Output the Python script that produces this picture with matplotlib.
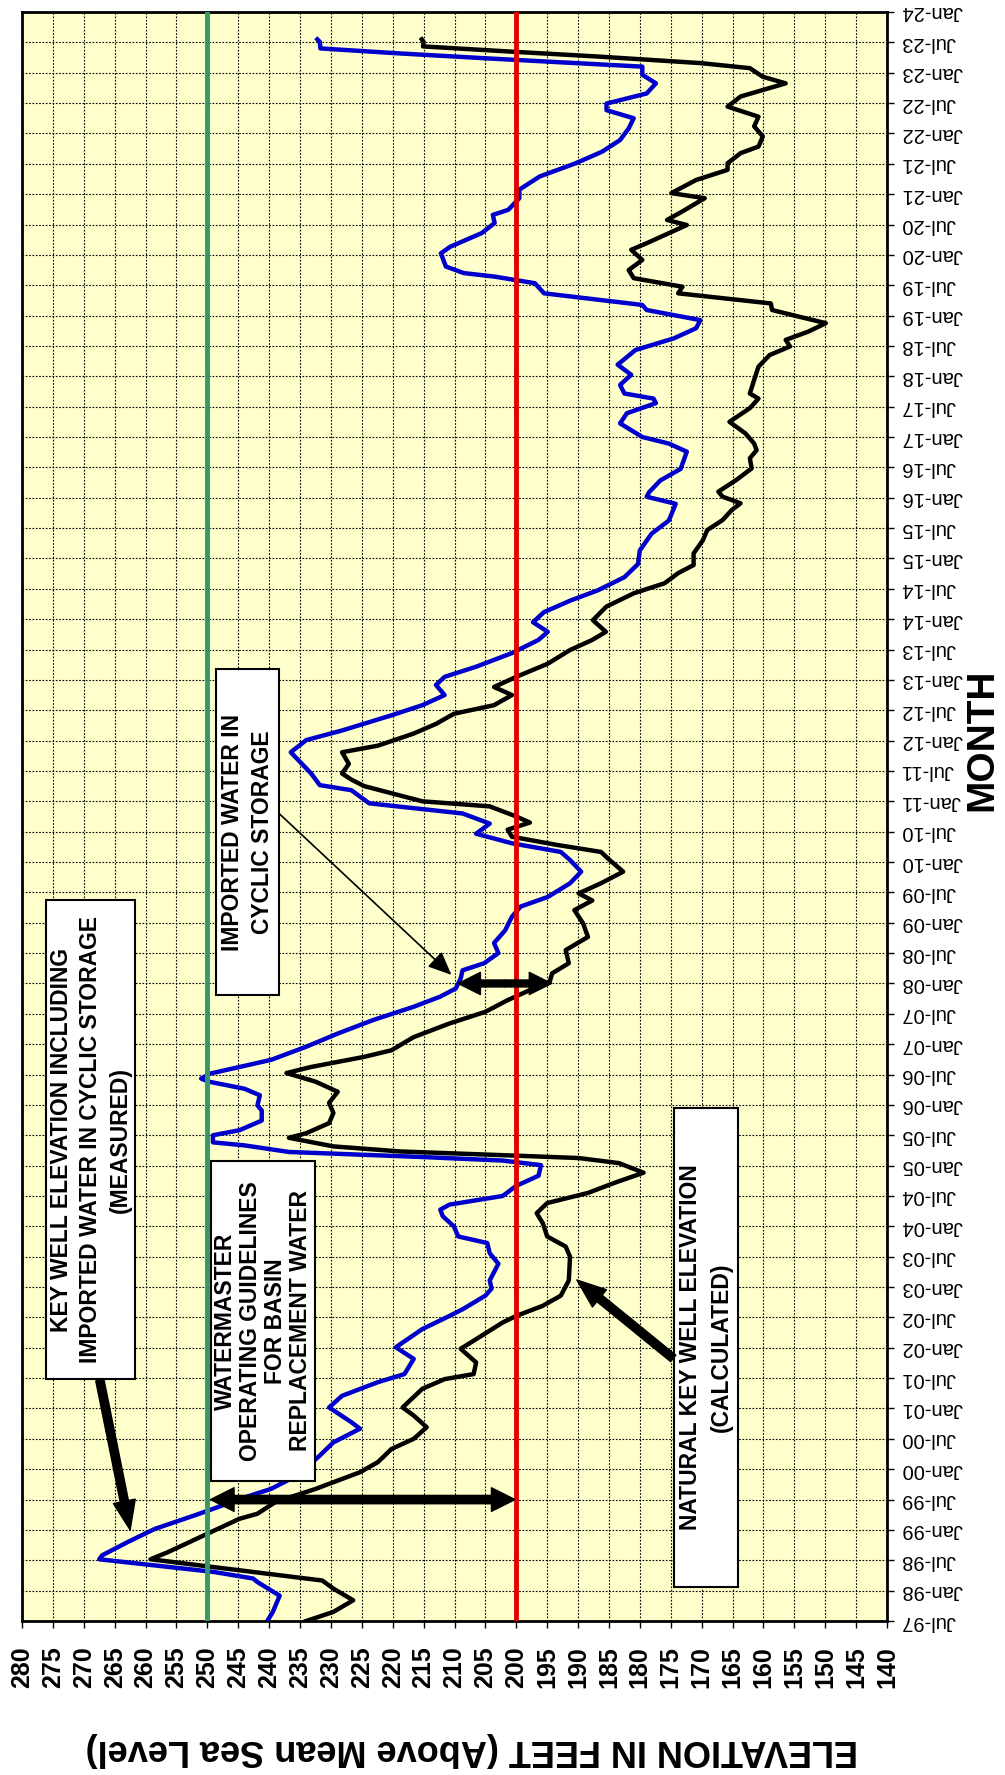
import matplotlib
matplotlib.use('Agg')
import matplotlib.pyplot as plt
from matplotlib.patches import Rectangle, FancyArrowPatch

plt.rcParams['font.family'] = ['Liberation Sans', 'DejaVu Sans']

# months counted from Jul-1997, elevations in feet
blue_month = [0, 1.8, 5, 7.7, 8.4, 9.7, 12.2, 13, 15.6, 18.2, 20.9, 22.2, 24.1, 26.1, 28.8,
              32.7, 35.3, 38, 39.3, 42.2, 44.5, 47.2, 48.8, 51.8, 54.1, 57.7, 60.3, 61.6, 64.3,
              65.7, 67.3, 70.6, 72.7, 74.7, 76, 78, 80, 81.3, 82.3, 84, 86, 88, 90.1, 91, 91.7,
              92.7, 94, 94.6, 96, 97, 98.9, 100.9, 101.9, 103.9, 105.2, 106.6, 107.2, 108.2,
              110.9, 113.5, 116.1, 118.8, 121.4, 123.4, 125, 127, 128.6, 130, 132, 134, 136.5,
              139.2, 141.2, 143.1, 145.8, 148.1, 150.4, 152, 153.7, 155.6, 157.6, 159.6, 161.6,
              164.2, 165.2, 167.5, 169.4, 171.7, 174.1, 176, 179, 181, 183, 185, 186.6, 188.6,
              191.3, 193.9, 195.5, 197.4, 199.4, 201.7, 203.7, 206.3, 208.9, 211.6, 214.9, 217.5,
              220.8, 222.2, 223.1, 225.4, 227.7, 230.1, 231.1, 232.7, 234, 236.7, 238.7, 240.7,
              241.6, 242.6, 244.3, 246.3, 248.3, 251.2, 253.5, 255.5, 257.1, 259.1, 260.1, 262.4,
              264.4, 265.7, 266.4, 267.7, 270.3, 271.6, 274.3, 276.3, 277.9, 278.9, 281.2, 282.9,
              285.5, 288.1, 290.4, 292.7, 295, 297, 298.6, 299.9, 301.9, 303.9, 305.6, 307.2,
              308.8, 309.8, 310.8, 312.1, 312.6]
blue_elev = [240.3, 239.4, 238.3, 241.9, 242.6, 249, 267.5, 267, 262.9, 258.5, 252, 249, 244.8,
             239.7, 235.4, 231.8, 229.6, 225.3, 226.7, 230.3, 228.2, 222.4, 218.1, 216.6, 219.5,
             215.2, 210.8, 208.7, 205, 204, 204.3, 202.9, 204.3, 204.7, 209.4, 210.1, 211.9,
             212.3, 210.8, 202.2, 200, 196.4, 196, 202.2, 215.2, 236.8, 244, 249.1, 249.1, 244.8,
             241.2, 241.2, 241.9, 241.5, 244, 249.8, 251, 249.5, 239.7, 234, 228.9, 223.1, 216.6,
             212.3, 209.8, 209, 208.7, 205.2, 202.9, 203.6, 201.8, 200.7, 199.3, 194.9, 191.3,
             189.5, 191.3, 192.8, 200.7, 206.5, 204.3, 208.7, 223.8, 226.7, 231.8, 233.2, 234.7,
             236.5, 234, 228.2, 220.2, 215.2, 211.6, 213, 211.6, 206.5, 200.7, 196.4, 194.9,
             197.3, 195.5, 191.2, 186.8, 182.5, 180.3, 180, 178.1, 175.3, 174.2, 178.9, 178.5,
             176.7, 173.4, 172.7, 172.4, 175.3, 179.6, 183.2, 182.1, 177.4, 177.8, 182.5, 183.2,
             181.4, 183.6, 180.7, 174.5, 170.9, 170.2, 178.9, 179.6, 195.5, 197, 203.5, 208.5,
             211.4, 212.2, 210.7, 205.6, 203.5, 203.8, 201.3, 199.5, 199.5, 196.2, 190.4, 186.1,
             183.2, 181.8, 181, 185.4, 185.4, 178.9, 177.4, 179.6, 179.6, 204.2, 218.7, 231.7,
             231.8, 232.2]

black_month = [0, 1.8, 4.1, 6.4, 8, 9.7, 12.2, 13.6, 16.9, 20.2, 21.2, 23.5, 26.1, 29.4, 31.4,
               34, 36, 38.3, 40.6, 42.2, 45.9, 47.8, 48.8, 51.1, 53.8, 55.7, 59, 60.3, 62.3, 64.3,
               65.7, 67.3, 72, 74, 76, 78.6, 80.6, 82.6, 84.6, 86.6, 88.6, 90.5, 91.5, 92, 92.8,
               93.8, 95.5, 96.4, 98.4, 100.4, 102.4, 104.6, 106.6, 108.3, 109.5, 111.5, 112.8,
               115.4, 118.1, 120.4, 122.7, 124.7, 126.3, 128, 130, 132.6, 135.2, 137.9, 140.5,
               142.4, 143.8, 145.8, 148.1, 150.4, 152, 153.4, 155, 156.4, 157.8, 159, 161, 162,
               163.6, 165, 166.3, 167.5, 169.4, 171.7, 173, 175.4, 177.3, 179.3, 181, 183, 184.6,
               186.6, 189.2, 191.9, 193.9, 195.5, 197.8, 200.5, 203.1, 205.1, 207.1, 208.7, 211,
               213.6, 215.6, 217.6, 219.6, 220.9, 222.2, 223.2, 225.5, 227.8, 229.8, 231.4, 232.7,
               234.7, 237, 239.7, 241.6, 242.6, 245.3, 247.9, 250.2, 251.9, 253.2, 254.8, 256.5,
               257.8, 259.1, 260.4, 262.4, 263.7, 265.4, 267, 269, 271, 272.3, 274.3, 275.9,
               276.9, 278.6, 281.2, 282.2, 284.8, 286.8, 288.1, 290.1, 291.4, 293.4, 295.4, 297.3,
               299.3, 301.3, 303.9, 305.2, 306.9, 307.9, 309.2, 310.2, 311.2, 312.1, 312.6]
black_elev = [234, 229.6, 226.4, 229.6, 231.4, 242.6, 259.2, 256.4, 250.6, 244.8, 241.9, 239,
              232.5, 225.3, 222.4, 220.2, 216.6, 214.5, 216.6, 218.4, 215.2, 211.6, 206.9, 206.5,
              209, 206.5, 202.2, 200, 195.7, 192.8, 192.2, 191.5, 191.3, 192, 195, 195.7, 196.7,
              195, 188.4, 184.1, 179.4, 183.4, 189.9, 200.7, 218.8, 229.6, 236.8, 234, 230.3,
              229.6, 230.3, 228.9, 232.5, 237.2, 233.2, 224.6, 220.2, 216.6, 210.8, 205, 201.4,
              197.8, 194.6, 194.2, 191.5, 192, 188.4, 189.2, 190.6, 187.7, 189.9, 186.3, 182.7,
              184.9, 186.3, 193.5, 200.7, 201.4, 197.8, 200, 204.3, 215.2, 220.2, 224.6, 226.7,
              228.2, 227.1, 228.2, 222.4, 216.6, 213, 210.1, 203.6, 200.7, 203.6, 200, 194.9,
              191.3, 187.7, 185.5, 187.6, 185.4, 181, 176, 173.8, 171.3, 171.3, 169.8, 169.1,
              166.6, 165.1, 163.7, 166.6, 167.3, 164.4, 161.9, 162.2, 161.1, 161.5, 162.9, 165.5,
              162.2, 160.8, 162.2, 161.5, 160.8, 159, 155.7, 156.4, 152.8, 149.9, 154.3, 158.6,
              158.8, 173.8, 173.1, 181, 181.8, 179.6, 181.4, 178.9, 175.3, 172.4, 175.6, 173.1,
              169.5, 174.9, 170.9, 165.8, 165.8, 163.7, 160.8, 160.1, 161.5, 160.8, 165.8, 163.7,
              156.4, 160.1, 162.2, 170.2, 186.8, 201.3, 215.1, 215, 215.3]

guideline_high = 250
guideline_low = 200

elev_ticks = list(range(140, 285, 5))
month_ticks = list(range(0, 319, 6))
month_labels = []
for i in range(len(month_ticks)):
    if i % 2 == 0:
        month_labels.append('Jul-%02d' % ((97 + i // 2) % 100))
    else:
        month_labels.append('Jan-%02d' % ((97 + (i + 1) // 2) % 100))

fig = plt.figure(figsize=(10.05, 17.75), dpi=100)
ax = fig.add_axes([22 / 1005, 1 - 1621 / 1775, 865 / 1005, 1609 / 1775])
ax.set_facecolor('#FFFFCC')

ax.plot(black_elev, black_month, color='black', lw=3.2, zorder=3)
ax.plot(blue_elev, blue_month, color='#0000CC', lw=3.2, zorder=3)
ax.axvline(guideline_high, color='#339966', lw=3.5, zorder=4)
ax.axvline(guideline_low, color='#E00000', lw=3.5, zorder=4)

ax.set_xlim(280, 140)
ax.set_ylim(0, 318)
ax.set_xticks(elev_ticks)
ax.set_xticklabels([str(v) for v in elev_ticks], rotation=90, fontsize=18, fontweight='bold')
ax.yaxis.tick_right()
ax.set_yticks(month_ticks)
ax.set_yticklabels(month_labels, rotation=180, fontsize=14.5, ha='left', va='center')
ax.tick_params(axis='x', direction='out', length=5, width=1, pad=13)
ax.tick_params(axis='y', direction='out', length=5, width=1, pad=5, right=True, left=False)
ax.grid(True, color='black', linestyle=(0, (1.5, 1.5)), lw=0.8, zorder=1)
ax.set_axisbelow(True)
for s in ax.spines.values():
    s.set_linewidth(2)


# text boxes: (left ft, right ft, bottom month, top month)
def text_box(x0, x1, y0, y1, text, ls):
    ax.add_patch(Rectangle((x1, y0), x0 - x1, y1 - y0, facecolor='white', edgecolor='black',
                           lw=1.5, zorder=6))
    ax.text((x0 + x1) / 2, (y0 + y1) / 2, text, rotation=90, ha='center', va='center',
            multialignment='center', fontsize=16.5, fontweight='bold', linespacing=ls, zorder=7)


def thick_arrow(start, end, hl=21, hw=16, tw=6):
    style = 'simple,head_length=%g,head_width=%g,tail_width=%g' % (hl, hw, tw)
    ax.add_patch(FancyArrowPatch(start, end, arrowstyle=style, mutation_scale=1, color='black',
                                 shrinkA=0, shrinkB=0, zorder=8))


def double_arrow(xa, xb, y, hl=17, hw=17, tw=6):
    mid = (xa + xb) / 2
    thick_arrow((mid, y), (xa, y), hl, hw, tw)
    thick_arrow((mid, y), (xb, y), hl, hw, tw)


text_box(276.1, 261.7, 47.8, 142.5,
         'KEY WELL ELEVATION INCLUDING\nIMPORTED WATER IN CYCLIC STORAGE\n(MEASURED)', 1.35)
text_box(249.4, 232.6, 27.7, 90.9,
         'WATERMASTER\nOPERATING GUIDELINES\nFOR BASIN\nREPLACEMENT WATER', 1.1)
text_box(248.6, 238.4, 123.7, 188.1, 'IMPORTED WATER IN\nCYCLIC STORAGE', 1.35)
text_box(174.5, 164.1, 6.7, 101.4, 'NATURAL KEY WELL ELEVATION\n(CALCULATED)', 1.45)

thick_arrow((267.4, 47.6), (262.5, 18.0))
thick_arrow((174.6, 51.9), (190.2, 67.4))
double_arrow(249.5, 200.2, 24)
double_arrow(209.4, 194.3, 126, hl=16, hw=16, tw=5)
ax.add_patch(FancyArrowPatch((238.4, 159.6), (210.5, 127.7),
                             arrowstyle='-|>,head_length=0.8,head_width=0.35', mutation_scale=18,
                             lw=1.2, color='black', shrinkA=0, shrinkB=0, zorder=8))

fig.text(472 / 1005, 1 - 1750 / 1775, 'ELEVATION IN FEET (Above Mean Sea Level)', rotation=180,
         ha='center', va='center', fontsize=26, fontweight='bold')
fig.text(982 / 1005, 1 - 740 / 1775, 'MONTH', rotation=90, ha='center', va='center',
         fontsize=28, fontweight='bold')

fig.savefig('out.png', dpi=100)
